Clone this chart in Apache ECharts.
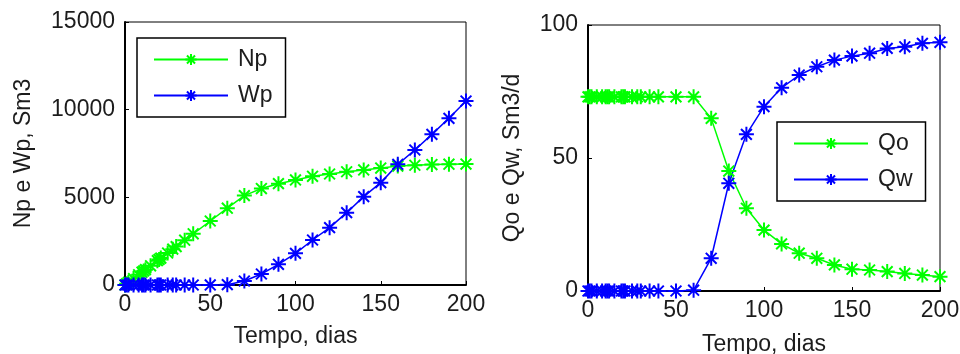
<!DOCTYPE html>
<html>
<head>
<meta charset="utf-8">
<script src="https://cdn.jsdelivr.net/npm/echarts@6/dist/echarts.min.js"></script>
<style>
  html, body { margin: 0; padding: 0; background: #fff; }
  #chart { width: 960px; height: 354px; }
</style>
</head>
<body>
<div id="chart"></div>
<script>
// Simulation report times (days)
const dias = [0, 1, 2, 5, 8, 10, 11, 12, 15, 19, 20, 21, 25, 28, 30, 35, 40, 50, 60,
  70, 80, 90, 100, 110, 120, 130, 140, 150, 160, 170, 180, 190, 200];

// Cumulative oil and water production, Sm3
const Np = [0, 73, 146, 365, 584, 730, 803, 876, 1095, 1387, 1460, 1533, 1825, 2044, 2190, 2555, 2920, 3650, 4380,
  5100, 5500, 5780, 5990, 6200, 6330, 6460, 6560, 6670, 6780, 6830, 6870, 6890, 6900];
const Wp = [0, 0, 0, 0, 0, 0, 0, 0, 0, 0, 0, 0, 0, 0, 0, 0, 0, 2, 20,
  228, 627, 1180, 1806, 2567, 3270, 4125, 5038, 5836, 6880, 7700, 8593, 9506, 10494];

// Oil and water rates, Sm3/d
const Qo = [73, 73, 73, 73, 73, 73, 73, 73, 73, 73, 73, 73, 73, 73, 73, 73, 73, 73, 73,
  64.9, 45.1, 31.1, 22.9, 17.7, 14.2, 12.3, 9.8, 8.2, 7.9, 7.3, 6.6, 6.0, 5.4];
const Qw = [0, 0, 0, 0, 0, 0, 0, 0, 0, 0, 0, 0, 0, 0, 0, 0, 0, 0, 0.3,
  12.3, 40.5, 58.9, 69.3, 76.4, 81.2, 84.3, 86.8, 88.3, 89.4, 91.2, 91.8, 93.1, 93.5];

// Axis ticks
const xTicks = [0, 50, 100, 150, 200];
const yTicksCum = [0, 5000, 10000, 15000];
const yTicksRate = [0, 50, 100];

const GREEN = '#00ff00';
const BLUE = '#0000ff';
const FONT = '"Liberation Sans", Arial, sans-serif';
const TXT = '#1c1c1c';

// asterisk marker: plus and cross strokes
const STAR = 'path://M0,-1L0,1M-1,0L1,0M-0.72,-0.72L0.72,0.72M-0.72,0.72L0.72,-0.72';

const pairs = (xs, ys) => xs.map((x, i) => [x, ys[i]]);
const plain = v => String(v);

function xAxisFor(gridIndex, gap) {
  return {
    type: 'value', gridIndex,
    min: xTicks[0], max: xTicks[xTicks.length - 1], interval: xTicks[1] - xTicks[0],
    name: 'Tempo, dias', nameLocation: 'middle', nameGap: gap,
    nameTextStyle: { fontFamily: FONT, fontSize: 23, color: TXT },
    axisLine: { show: true, lineStyle: { color: '#000', width: 2 } },
    axisTick: { show: true, inside: true, length: 4, lineStyle: { color: '#000' } },
    axisLabel: { fontFamily: FONT, fontSize: 23, color: TXT, margin: 8, formatter: plain },
    splitLine: { show: false }
  };
}

function yAxisFor(gridIndex, ticks, name, gap) {
  return {
    type: 'value', gridIndex,
    min: ticks[0], max: ticks[ticks.length - 1], interval: ticks[1] - ticks[0],
    name, nameLocation: 'middle', nameGap: gap, nameRotate: 90,
    nameTextStyle: { fontFamily: FONT, fontSize: 23, color: TXT },
    axisLine: { show: true, lineStyle: { color: '#000', width: 2 } },
    axisTick: { show: true, inside: true, length: 4, lineStyle: { color: '#000' } },
    axisLabel: { fontFamily: FONT, fontSize: 23, color: TXT, margin: 10, formatter: plain },
    splitLine: { show: false }
  };
}

function lineSeries(name, color, idx, data) {
  return {
    name, type: 'line', xAxisIndex: idx, yAxisIndex: idx,
    data, clip: false,
    symbol: STAR, symbolSize: 15,
    lineStyle: { color, width: 1.5 },
    itemStyle: { color, borderColor: color, borderWidth: 2 },
    emphasis: { disabled: true },
    animation: false
  };
}

function legendFor(names, left, top) {
  return {
    data: names, orient: 'vertical', left, top,
    padding: [10, 13, 10, 16],
    itemWidth: 74, itemHeight: 14, itemGap: 13,
    borderColor: '#000', borderWidth: 1.5, backgroundColor: '#fff',
    textStyle: { fontFamily: FONT, fontSize: 23, color: TXT, lineHeight: 23, padding: [0, 0, 0, 5] },
    selectedMode: false
  };
}

const chart = echarts.init(document.getElementById('chart'), null, { renderer: 'canvas' });
chart.setOption({
  backgroundColor: '#fff',
  animation: false,
  grid: [
    { left: 125, top: 22, width: 341, height: 263, show: true, borderColor: '#000', borderWidth: 1,
      outerBoundsMode: 'none', containLabel: false },
    { left: 588, top: 25, width: 352, height: 266, show: true, borderColor: '#000', borderWidth: 1,
      outerBoundsMode: 'none', containLabel: false }
  ],
  xAxis: [xAxisFor(0, 40), xAxisFor(1, 42)],
  yAxis: [
    yAxisFor(0, yTicksCum, 'Np e Wp, Sm3', 90),
    yAxisFor(1, yTicksRate, 'Qo e Qw, Sm3/d', 64)
  ],
  legend: [
    legendFor(['Np', 'Wp'], 137, 38),
    legendFor(['Qo', 'Qw'], 777, 122)
  ],
  series: [
    lineSeries('Np', GREEN, 0, pairs(dias, Np)),
    lineSeries('Wp', BLUE, 0, pairs(dias, Wp)),
    lineSeries('Qo', GREEN, 1, pairs(dias, Qo)),
    lineSeries('Qw', BLUE, 1, pairs(dias, Qw))
  ]
});
</script>
</body>
</html>
